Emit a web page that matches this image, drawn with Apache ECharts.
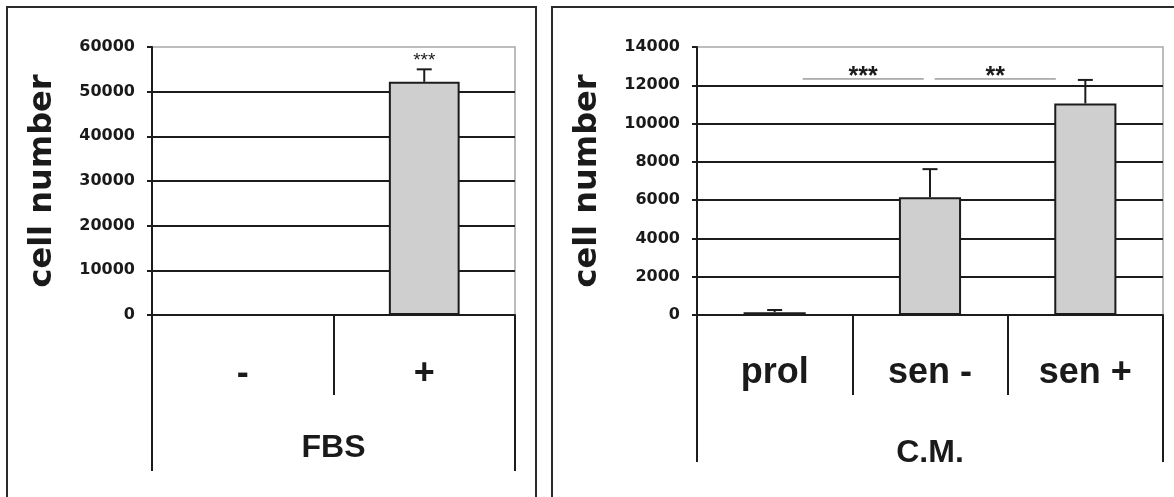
<!DOCTYPE html>
<html>
<head>
<meta charset="utf-8">
<script src="https://cdn.jsdelivr.net/npm/echarts@6/dist/echarts.min.js"></script>
<style>
  html, body { margin: 0; padding: 0; background: #ffffff; }
  #chart { width: 1174px; height: 497px; }
</style>
</head>
<body>
<div id="chart"></div>
<script>
// ---- Panel 1: serum (FBS) ----
const fbsCategories = ['-', '+'];
const fbsMeans = [0, 52200];
const fbsUpper = [0, 55000];          // mean + SD
const fbsStars = ['', '***'];
const fbsTitle = ['FBS'];
const fbsScale = { min: 0, max: 60000, interval: 10000 };

// ---- Panel 2: conditioned medium (C.M.) ----
const cmCategories = ['prol', 'sen -', 'sen +'];
const cmMeans = [150, 6150, 11050];
const cmUpper = [260, 7620, 12280];   // mean + SD
const cmTitle = ['C.M.'];
const cmScale = { min: 0, max: 14000, interval: 2000 };
// significance brackets: from / to (in category units) and height
const cmBrackets = [[0.18, 0.96, 12330], [1.03, 1.81, 12330]];
const cmBracketText = ['***', '**'];

const yTitle = 'cell number';

const INK = '#1a1a1a';
const LINE = '#1c1c1c';
const BAR_FILL = '#cfcfcf';
const LW = 2;

const plotA = { left: 152, top: 47, width: 363, height: 268 };
const plotB = { left: 697, top: 47, width: 466, height: 268 };

function grid(box, framed) {
  return Object.assign({
    show: framed,
    borderColor: '#a8a8a8',
    borderWidth: 1.5,
    backgroundColor: 'transparent'
  }, box);
}

function valueAxis(gridIndex, scale) {
  return {
    type: 'value', gridIndex,
    min: scale.min, max: scale.max, interval: scale.interval,
    name: yTitle, nameLocation: 'middle', nameRotate: 90, nameGap: 93,
    nameTextStyle: { fontFamily: 'DejaVu Sans', fontWeight: 'bold', fontSize: 32, color: INK },
    axisLine: { show: true, lineStyle: { color: LINE, width: LW } },
    axisTick: { show: true, length: 5, lineStyle: { color: LINE, width: LW } },
    axisLabel: { margin: 17, fontFamily: 'DejaVu Sans', fontWeight: 'bold', fontSize: 16, color: INK,
                 formatter: v => String(v) },
    splitLine: { show: true, showMinLine: false, showMaxLine: false, lineStyle: { color: LINE, width: LW } }
  };
}

function hiddenValueAxis(gridIndex) {
  return { type: 'value', gridIndex, show: false, min: 0, max: 1 };
}

function categoryAxis(gridIndex, data, tickLen, margin, fontSize, showLine) {
  return {
    type: 'category', gridIndex, data,
    boundaryGap: true,
    axisLine: { show: showLine, lineStyle: { color: LINE, width: LW } },
    axisTick: { show: true, interval: 0, alignWithLabel: false, length: tickLen,
                lineStyle: { color: LINE, width: LW } },
    axisLabel: { interval: 0, margin, verticalAlign: 'middle',
                 fontFamily: 'Liberation Sans', fontWeight: 'bold', fontSize, color: INK },
    splitLine: { show: false }
  };
}

function barSeries(axisIndex, values, width) {
  return {
    type: 'bar', xAxisIndex: axisIndex, yAxisIndex: axisIndex,
    data: values, barWidth: width, z: 3,
    itemStyle: { color: BAR_FILL, borderColor: LINE, borderWidth: LW },
    emphasis: { disabled: true }
  };
}

// upper error bars (with optional significance stars above the cap)
function errorSeries(axisIndex, means, upper, stars, starFont) {
  return {
    type: 'custom', xAxisIndex: axisIndex, yAxisIndex: axisIndex, z: 4,
    data: means.map((m, i) => [i, m, upper[i]]),
    encode: { x: 0, y: [1, 2] },
    renderItem(params, api) {
      const i = api.value(0);
      if (api.value(2) <= api.value(1)) return null;
      const lo = api.coord([i, api.value(1)]);
      const hi = api.coord([i, api.value(2)]);
      const half = 7.5;
      const children = [
        { type: 'line', shape: { x1: lo[0], y1: lo[1], x2: hi[0], y2: hi[1] },
          style: { stroke: LINE, lineWidth: LW } },
        { type: 'line', shape: { x1: hi[0] - half, y1: hi[1], x2: hi[0] + half, y2: hi[1] },
          style: { stroke: LINE, lineWidth: LW } }
      ];
      const s = stars && stars[params.dataIndex];
      if (s) {
        children.push({ type: 'text', x: hi[0], y: hi[1] - 9,
          style: { text: s, fill: INK, font: starFont, align: 'center', verticalAlign: 'middle' } });
      }
      return { type: 'group', children };
    }
  };
}

// thin comparison lines with their significance marks
function bracketSeries(axisIndex) {
  return {
    type: 'custom', xAxisIndex: axisIndex, yAxisIndex: axisIndex, z: 4,
    data: cmBrackets.map(b => [0, b[2]]),
    encode: { x: 0, y: 1 },
    renderItem(params, api) {
      const b = cmBrackets[params.dataIndex];
      const p0 = api.coord([0, b[2]]);
      const p1 = api.coord([1, b[2]]);
      const band = p1[0] - p0[0];
      const xs = p0[0] + b[0] * band;
      const xe = p0[0] + b[1] * band;
      return { type: 'group', children: [
        { type: 'line', shape: { x1: xs, y1: p0[1], x2: xe, y2: p0[1] },
          style: { stroke: '#6a6a6a', lineWidth: 1 } },
        { type: 'text', x: (xs + xe) / 2, y: p0[1] - 2,
          style: { text: cmBracketText[params.dataIndex], fill: INK,
                   font: 'bold 25px "Liberation Sans"', align: 'center', verticalAlign: 'middle' } }
      ] };
    }
  };
}

const chart = echarts.init(document.getElementById('chart'), null, { renderer: 'canvas' });

chart.setOption({
  animation: false,
  backgroundColor: '#ffffff',
  grid: [grid(plotA, true), grid(plotB, true), grid(plotA, false), grid(plotB, false)],
  xAxis: [
    categoryAxis(0, fbsCategories, 80, 59, 36, true),
    categoryAxis(1, cmCategories, 80, 58, 36, true),
    categoryAxis(2, fbsTitle, 156, 133, 32, false),
    categoryAxis(3, cmTitle, 147, 138, 32, false)
  ],
  yAxis: [
    valueAxis(0, fbsScale),
    valueAxis(1, cmScale),
    hiddenValueAxis(2),
    hiddenValueAxis(3)
  ],
  series: [
    barSeries(0, fbsMeans, '39%'),
    barSeries(1, cmMeans, '40%'),
    errorSeries(0, fbsMeans, fbsUpper, fbsStars, '19px "Liberation Sans"'),
    errorSeries(1, cmMeans, cmUpper, null, null),
    bracketSeries(1)
  ],
  graphic: [
    { type: 'rect', shape: { x: 7, y: 7, width: 529, height: 520 },
      style: { fill: 'none', stroke: '#2b2b2b', lineWidth: 2 } },
    { type: 'rect', shape: { x: 552, y: 7, width: 640, height: 520 },
      style: { fill: 'none', stroke: '#2b2b2b', lineWidth: 2 } }
  ]
});
</script>
</body>
</html>
